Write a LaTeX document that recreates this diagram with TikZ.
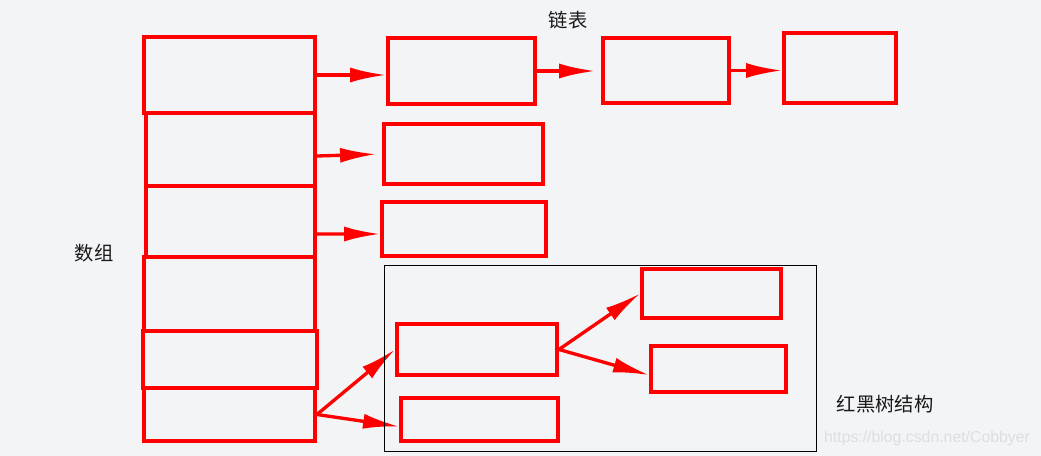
\documentclass[tikz,border=0pt]{standalone}
\usepackage{fontspec}
\newfontfamily\cjk{Noto Sans CJK SC}
\setsansfont{Liberation Sans}
\usetikzlibrary{arrows.meta}
\definecolor{bg}{HTML}{F3F4F6}
\definecolor{wmark}{HTML}{DCDEE2}
\begin{document}
\begin{tikzpicture}[x=0.02cm,y=-0.02cm,line cap=round,
  box/.style={draw=red,line width=2.2pt,inner sep=0pt},
  sz/.style 2 args={minimum width=#1*0.02cm,minimum height=#2*0.02cm},
  link/.style={draw=red,line width=1.9pt,-{Latex[length=0.72cm,width=0.3cm]}},
  lbl/.style={font=\cjk\fontsize{11}{13}\selectfont,text=black!90}]
  \fill[bg] (0,0) rectangle (1041,456);
  \node[box,sz={171}{76}] (slot1) at (229.5,75) {};
  \node[box,sz={169}{73}] (slot2) at (230.5,149.5) {};
  \node[box,sz={169}{71}] (slot3) at (230.5,221.5) {};
  \node[box,sz={171}{74}] (slot4) at (229.5,294) {};
  \node[box,sz={174}{57}] (slot5) at (230,359.5) {};
  \node[box,sz={171}{53}] (slot6) at (229.5,414.5) {};
  \node[box,sz={147}{66}] (list1) at (461.5,71) {};
  \node[box,sz={126}{65}] (list2) at (666,70.5) {};
  \node[box,sz={112}{70}] (list3) at (840,68) {};
  \node[box,sz={159}{60}] (list4) at (463.5,154) {};
  \node[box,sz={164}{54}] (list5) at (464,229) {};
  \node[box,sz={160}{51}] (root) at (477,349.5) {};
  \node[box,sz={139}{49}] (leaf1) at (711.5,293.5) {};
  \node[box,sz={135}{46}] (leaf2) at (718.5,369) {};
  \node[box,sz={157}{43}] (tail) at (479.5,419.5) {};
  \draw[link] (slot1.east) -- (slot1.east -| list1.west);
  \draw[link,shorten >=0.12cm] (list1.east) -- (list1.east -| list2.west);
  \draw[link] (list2.east) -- (list2.east -| list3.west);
  \draw[link,shorten >=0.12cm] ([yshift=-0.13cm]slot2.east) -- (list4.west);
  \draw[link] ([yshift=-0.25cm]slot3.east) -- ([yshift=-0.1cm]list5.west);
  \draw[link] (slot6.east) -- (root.west);
  \draw[link] (slot6.east) -- (tail.185);
  \draw[link] (root.east) -- (leaf1.west);
  \draw[link] (root.east) -- (leaf2.185);
  \node[draw=black,line width=0.45pt,inner sep=0pt,sz={432}{186}] (tree) at (600,358) {};
  \node[lbl] (listlbl) at (568,20) {链表};
  \node[lbl] (arrlbl) at (94,253) {数组};
  \node[lbl] (treelbl) at (885,404) {红黑树结构};
  \node[font=\sffamily\fontsize{9}{11}\selectfont,text=wmark] (mark) at (927,438) {https://blog.csdn.net/Cobbyer};
\end{tikzpicture}
\end{document}
